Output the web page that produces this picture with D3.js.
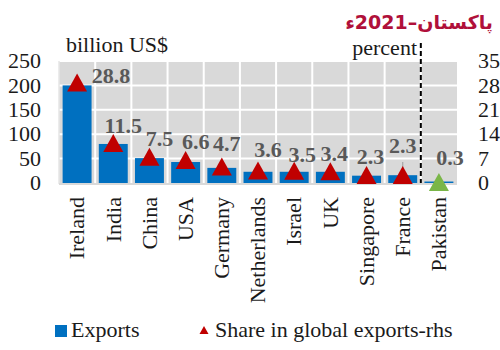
<!DOCTYPE html>
<html>
<head>
<meta charset="utf-8">
<script src="https://cdn.jsdelivr.net/npm/d3@7"></script>
<style>
  html, body { margin: 0; padding: 0; background: #fff; }
  svg { display: block; }
</style>
</head>
<body>
<svg id="chart" width="500" height="350"></svg>
<script>
// Data: ICT services exports (billion US$) and share in global exports (%)
const countries = ["Ireland", "India", "China", "USA", "Germany", "Netherlands",
                   "Israel", "UK", "Singapore", "France", "Pakistan"];
const exportsBn = [200, 80, 51, 43, 31, 23, 23, 23, 15, 16, 3];
const sharePct  = [28.8, 11.5, 7.5, 6.6, 4.7, 3.6, 3.5, 3.4, 2.3, 2.3, 0.3];
const leftTicks  = [0, 50, 100, 150, 200, 250];
const rightTicks = [0, 7, 14, 21, 28, 35];

// Label placement relative to each marker: [dx, dy] of the text baseline centre
const labelShift = [[34, 0], [10, -10], [10, -11], [10, -11], [5, -16], [10, -13],
                    [8, -9], [4, -10], [4, -11], [0, -22], [11, -17]];

const serif = "'Liberation Serif', 'Times New Roman', serif";
const svg = d3.select("#chart");

const plot = { left: 59, right: 457, top: 61, bottom: 183 };

const x = d3.scaleBand()
  .domain(countries)
  .range([plot.left, plot.right])
  .paddingInner(0.2)
  .paddingOuter(0.1);

const yL = d3.scaleLinear().domain([0, 250]).range([plot.bottom, plot.top]);
const yR = d3.scaleLinear().domain([0, 35]).range([plot.bottom, plot.top]);

// Plot background
svg.append("rect")
  .attr("x", plot.left).attr("y", plot.top)
  .attr("width", plot.right - plot.left).attr("height", plot.bottom - plot.top)
  .attr("fill", "#d9d9d9");

// White grid: horizontal at left-axis ticks, vertical at category boundaries
const grid = svg.append("g").attr("stroke", "#fff").attr("stroke-width", 2);
grid.selectAll("line.h").data(leftTicks.slice(1)).join("line")
  .attr("x1", plot.left).attr("x2", plot.right)
  .attr("y1", d => yL(d)).attr("y2", d => yL(d));
const step = x.step();
const boundaries = d3.range(1, countries.length).map(i => plot.left + i * step);
grid.selectAll("line.v").data(boundaries).join("line")
  .attr("x1", d => d).attr("x2", d => d)
  .attr("y1", plot.top).attr("y2", plot.bottom);

// Frame line on the left
svg.append("line").attr("x1", plot.left).attr("x2", plot.left)
  .attr("y1", plot.top).attr("y2", plot.bottom + 1)
  .attr("stroke", "#e6e6e6").attr("stroke-width", 1.5);

// Bars
svg.append("g").selectAll("rect").data(countries).join("rect")
  .attr("x", d => x(d))
  .attr("y", (d, i) => yL(exportsBn[i]))
  .attr("width", x.bandwidth())
  .attr("height", (d, i) => yL(0) - yL(exportsBn[i]))
  .attr("fill", "#0070c0");

svg.append("line").attr("x1", plot.left).attr("x2", plot.right)
  .attr("y1", plot.bottom + 1).attr("y2", plot.bottom + 1)
  .attr("stroke", "#d9d9d9").attr("stroke-width", 2);

// Dashed separator before Pakistan
const sepX = plot.left + (countries.length - 1) * step;
svg.append("line")
  .attr("x1", sepX).attr("x2", sepX)
  .attr("y1", 43).attr("y2", plot.bottom)
  .attr("stroke", "#000").attr("stroke-width", 2)
  .attr("stroke-dasharray", "5,3");

// Leader line for the France label
const fi = countries.indexOf("France");
const fx = x("France") + x.bandwidth() / 2;
svg.append("line")
  .attr("x1", fx).attr("x2", fx)
  .attr("y1", yR(sharePct[fi]) + labelShift[fi][1] + 9)
  .attr("y2", yR(sharePct[fi]) - 3)
  .attr("stroke", "#a6a6a6").attr("stroke-width", 1.2);

// Triangle markers (share, right axis)
const tri = "M0,-9L10,9L-10,9Z";
svg.append("g").selectAll("path").data(countries).join("path")
  .attr("d", tri)
  .attr("transform", (d, i) => `translate(${x(d) + x.bandwidth() / 2},${yR(sharePct[i])})`)
  .attr("fill", d => d === "Pakistan" ? "#7ab648" : "#c00000");

// Value labels
svg.append("g").selectAll("text").data(countries).join("text")
  .attr("x", (d, i) => x(d) + x.bandwidth() / 2 + labelShift[i][0])
  .attr("y", (d, i) => yR(sharePct[i]) + labelShift[i][1])
  .attr("text-anchor", "middle")
  .attr("font-family", serif).attr("font-size", 22).attr("font-weight", "bold")
  .attr("fill", "#595959")
  .text((d, i) => sharePct[i].toFixed(1));

// Left axis labels
svg.append("g").selectAll("text").data(leftTicks).join("text")
  .attr("x", 41).attr("y", d => yL(d)).attr("dy", "0.33em")
  .attr("text-anchor", "end")
  .attr("font-family", serif).attr("font-size", 22).attr("fill", "#1a1a1a")
  .text(d => d);

// Right axis labels
svg.append("g").selectAll("text").data(rightTicks).join("text")
  .attr("x", 478).attr("y", d => yR(d)).attr("dy", "0.33em")
  .attr("text-anchor", "start")
  .attr("font-family", serif).attr("font-size", 22).attr("fill", "#1a1a1a")
  .text(d => d);

// Category labels, rotated
svg.append("g").selectAll("text").data(countries).join("text")
  .attr("transform", d => `translate(${x(d) + x.bandwidth() / 2},197) rotate(-90)`)
  .attr("dy", "0.33em")
  .attr("text-anchor", "end")
  .attr("font-family", serif).attr("font-size", 22).attr("fill", "#1a1a1a")
  .text(d => d);

// Axis units
svg.append("text").attr("x", 66).attr("y", 52)
  .attr("font-family", serif).attr("font-size", 22).attr("fill", "#1a1a1a")
  .text("billion US$");
svg.append("text").attr("x", 417).attr("y", 55).attr("text-anchor", "end")
  .attr("font-family", serif).attr("font-size", 22).attr("fill", "#1a1a1a")
  .text("percent");

// Title, right-aligned to the top-right corner
const title = svg.append("text")
  .attr("x", 0).attr("y", 29)
  .attr("font-family", "'DejaVu Sans', sans-serif")
  .attr("font-size", 19).attr("font-weight", "bold")
  .attr("fill", "#b0103a")
  .text("پاکستان–2021ء");
const tb = title.node().getBBox();
title.attr("x", 493 - (tb.x + tb.width));

// Legend
const legend = svg.append("g").attr("font-family", serif).attr("font-size", 22).attr("fill", "#1a1a1a");
legend.append("rect").attr("x", 55).attr("y", 325).attr("width", 12).attr("height", 12).attr("fill", "#0070c0");
legend.append("text").attr("x", 71).attr("y", 337).text("Exports");
legend.append("path").attr("d", "M0,-4L4.5,4L-4.5,4Z")
  .attr("transform", "translate(204,330)").attr("fill", "#c00000");
legend.append("text").attr("x", 215).attr("y", 337).text("Share in global exports-rhs");
</script>
</body>
</html>
